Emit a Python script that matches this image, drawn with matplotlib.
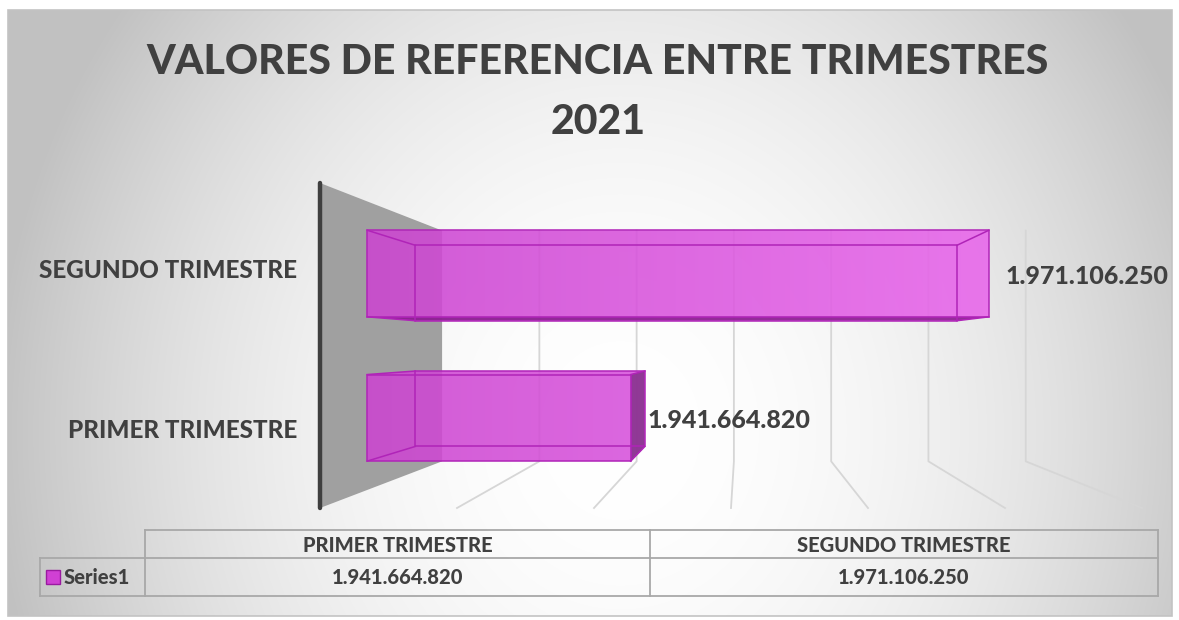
import numpy as np
import matplotlib
matplotlib.use("Agg")
import matplotlib.pyplot as plt
from matplotlib.patches import Polygon, Rectangle

# DATA
categories = ["PRIMER TRIMESTRE", "SEGUNDO TRIMESTRE"]
values = [1941664820, 1971106250]
series_name = "Series1"
title_lines = ["VALORES DE REFERENCIA ENTRE TRIMESTRES", "2021"]

# value axis (Excel 3D bar chart)
axis_min, axis_max, axis_step = 1.92e9, 1.98e9, 1e7

W, H = 1179, 620
FONT = ["Lato", "DejaVu Sans"]
WT = 900
TXT = "#404040"
EDGE = "#b024b8"

# depth scale factors of the fake perspective (1 = front of floor)
S_WALL, S_FRONT, S_BACK = 0.71, 0.888, 0.774
BAR_H = 0.6


def fmt(v):
    return f"{v:,}".replace(",", ".")


def hull(points):
    pts = sorted(set(points))
    lower, upper = [], []
    for p in pts:
        while len(lower) >= 2 and ((lower[-1][0] - lower[-2][0]) * (p[1] - lower[-2][1])
                                   - (lower[-1][1] - lower[-2][1]) * (p[0] - lower[-2][0])) <= 0:
            lower.pop()
        lower.append(p)
    for p in reversed(pts):
        while len(upper) >= 2 and ((upper[-1][0] - upper[-2][0]) * (p[1] - upper[-2][1])
                                   - (upper[-1][1] - upper[-2][1]) * (p[0] - upper[-2][0])) <= 0:
            upper.pop()
        upper.append(p)
    return lower[:-1] + upper[:-1]


fig = plt.figure(figsize=(W / 100, H / 100), dpi=100)

# BACKGROUND (radial gradient chart area)
bg = fig.add_axes([0, 0, 1, 1])
bg.set_xlim(0, W)
bg.set_ylim(H, 0)
bg.axis("off")
yy, xx = np.mgrid[0:H, 0:W]
r = np.sqrt(((xx - 620) / 620.0) ** 2 + ((yy - 430) / 700.0) ** 2)
shade = np.clip(1.0 - 0.23 * r ** 2, 0.76, 1)
img = np.dstack([shade] * 3)
bg.imshow(img, extent=(8, 1172, 616, 10), zorder=0, aspect="auto")
bg.add_patch(Rectangle((8, 10), 1164, 606, fill=False, ec="#c3c3c3", lw=1.2, zorder=1))

# title
for k, line in enumerate(title_lines):
    bg.text(598, 62 + k * 60, line, ha="center", va="center",
            fontsize=29.5, fontweight=WT, color=TXT, family=FONT)

# PLOT AREA
ax = fig.add_axes([320 / W, 112 / H, 822 / W, 325 / H])
ax.set_xlim(axis_min, axis_max)
ax.set_ylim(-0.5, len(categories) - 0.5)
ax.axis("off")

vp_x = axis_min + (741 - 320) / 822 * (axis_max - axis_min)
vp_y = 0.49


def proj(x, y, s):
    return vp_x + s * (x - vp_x), vp_y + s * (y - vp_y)


y_lo, y_hi = -0.5, len(categories) - 0.5

# left wall
wall = [proj(axis_min, y_hi, 1), proj(axis_min, y_hi, S_WALL),
        proj(axis_min, y_lo, S_WALL), proj(axis_min, y_lo, 1)]
ax.add_patch(Polygon(wall, closed=True, fc="#a0a0a0", ec="none", zorder=2, clip_on=False))
x0, y0 = proj(axis_min, y_hi, 1)
x1, y1 = proj(axis_min, y_lo, 1)
ax.plot([x0, x1], [y0, y1], color="#3f3f3f", lw=3.2, solid_capstyle="round",
        zorder=3, clip_on=False)

# gridlines on back wall and floor
for t in np.arange(axis_min + axis_step, axis_max + axis_step / 2, axis_step):
    bx_top, by_top = proj(t, y_hi, S_WALL)
    bx_bot, by_bot = proj(t, y_lo, S_WALL)
    fx, fy = proj(t, y_lo, 1)
    ax.plot([bx_top, bx_bot, fx], [by_top, by_bot, fy], color="#d6d6d6", lw=1.3,
            zorder=1, clip_on=False)

# horizontal gradient used to fill the bars
grad = np.linspace(0, 1, 256)[None, :]
c_lo = np.array([0.80, 0.27, 0.82])
c_hi = np.array([0.93, 0.42, 0.94])
bar_img = c_lo + (c_hi - c_lo) * grad[..., None]

# BARS (transparent boxes)
for i, v in enumerate(values):
    c = i
    f = [proj(axis_min, c - BAR_H / 2, S_FRONT), proj(v, c - BAR_H / 2, S_FRONT),
         proj(v, c + BAR_H / 2, S_FRONT), proj(axis_min, c + BAR_H / 2, S_FRONT)]
    b = [proj(axis_min, c - BAR_H / 2, S_BACK), proj(v, c - BAR_H / 2, S_BACK),
         proj(v, c + BAR_H / 2, S_BACK), proj(axis_min, c + BAR_H / 2, S_BACK)]
    outline = Polygon(hull(f + b), closed=True, transform=ax.transData)
    frac = (v - axis_min) / (axis_max - axis_min)
    xs = [p[0] for p in f + b]
    ys = [p[1] for p in f + b]
    im = ax.imshow(bar_img[:, :max(2, int(256 * frac))],
                   extent=(min(xs), max(xs), min(ys), max(ys)),
                   aspect="auto", alpha=0.88, zorder=4, interpolation="bilinear")
    im.set_clip_path(outline)
    ax.set_xlim(axis_min, axis_max)
    ax.set_ylim(-0.5, len(categories) - 0.5)
    # shaded side faces (only those seen from outside)
    if c - BAR_H / 2 > vp_y:
        ax.add_patch(Polygon([f[0], f[1], b[1], b[0]], closed=True, fc="#7a1680",
                             alpha=0.75, ec="none", zorder=4.5, clip_on=False))
    if v < vp_x:
        ax.add_patch(Polygon([f[1], f[2], b[2], b[1]], closed=True, fc="#7e2e84",
                             alpha=0.8, ec="none", zorder=4.5, clip_on=False))
    for pts in (f, b):
        ax.add_patch(Polygon(pts, closed=True, fill=False, ec=EDGE, lw=1.1,
                             zorder=5, clip_on=False))
    for k in range(4):
        ax.plot([f[k][0], b[k][0]], [f[k][1], b[k][1]], color=EDGE, lw=1.1,
                zorder=5, clip_on=False)

    # data label
    lx, ly = proj(v, c, S_FRONT)
    ax.annotate(fmt(v), (lx, ly), xytext=(17, -3), textcoords="offset pixels",
                ha="left", va="center", fontsize=18, fontweight=WT,
                color=TXT, family=FONT, annotation_clip=False, zorder=6)

    # category label
    bg.text(297, 431 - i * 160, categories[i], ha="right", va="center",
            fontsize=17.5, fontweight=WT, color=TXT, family=FONT)

# DATA TABLE
tb_left, tb_c1, tb_c2, tb_right = 40, 145, 650, 1158
tb_top, tb_mid, tb_bot = 530, 558, 596
lc = "#a8a8a8"
bg.plot([tb_c1, tb_right], [tb_top, tb_top], color=lc, lw=1.3)
bg.plot([tb_left, tb_right], [tb_mid, tb_mid], color=lc, lw=1.3)
bg.plot([tb_left, tb_right], [tb_bot, tb_bot], color=lc, lw=1.3)
bg.plot([tb_left, tb_left], [tb_mid, tb_bot], color=lc, lw=1.3)
for xv in (tb_c1, tb_c2, tb_right):
    bg.plot([xv, xv], [tb_top, tb_bot], color=lc, lw=1.3)
cols = [(tb_c1 + tb_c2) / 2, (tb_c2 + tb_right) / 2]
for j, (cat, v) in enumerate(zip(categories, values)):
    bg.text(cols[j], (tb_top + tb_mid) / 2 + 1, cat, ha="center", va="center",
            fontsize=14.5, fontweight=WT, color=TXT, family=FONT)
    bg.text(cols[j], (tb_mid + tb_bot) / 2 + 1, fmt(v), ha="center", va="center",
            fontsize=14.5, fontweight=WT, color=TXT, family=FONT)
bg.add_patch(Rectangle((46, 570), 14, 14, fc="#d040d4", ec="#9a1aa0", lw=1, zorder=3))
bg.text(64, 578, series_name, ha="left", va="center", fontsize=14.5,
        fontweight=WT, color=TXT, family=FONT)

fig.savefig("out.png", dpi=100)
